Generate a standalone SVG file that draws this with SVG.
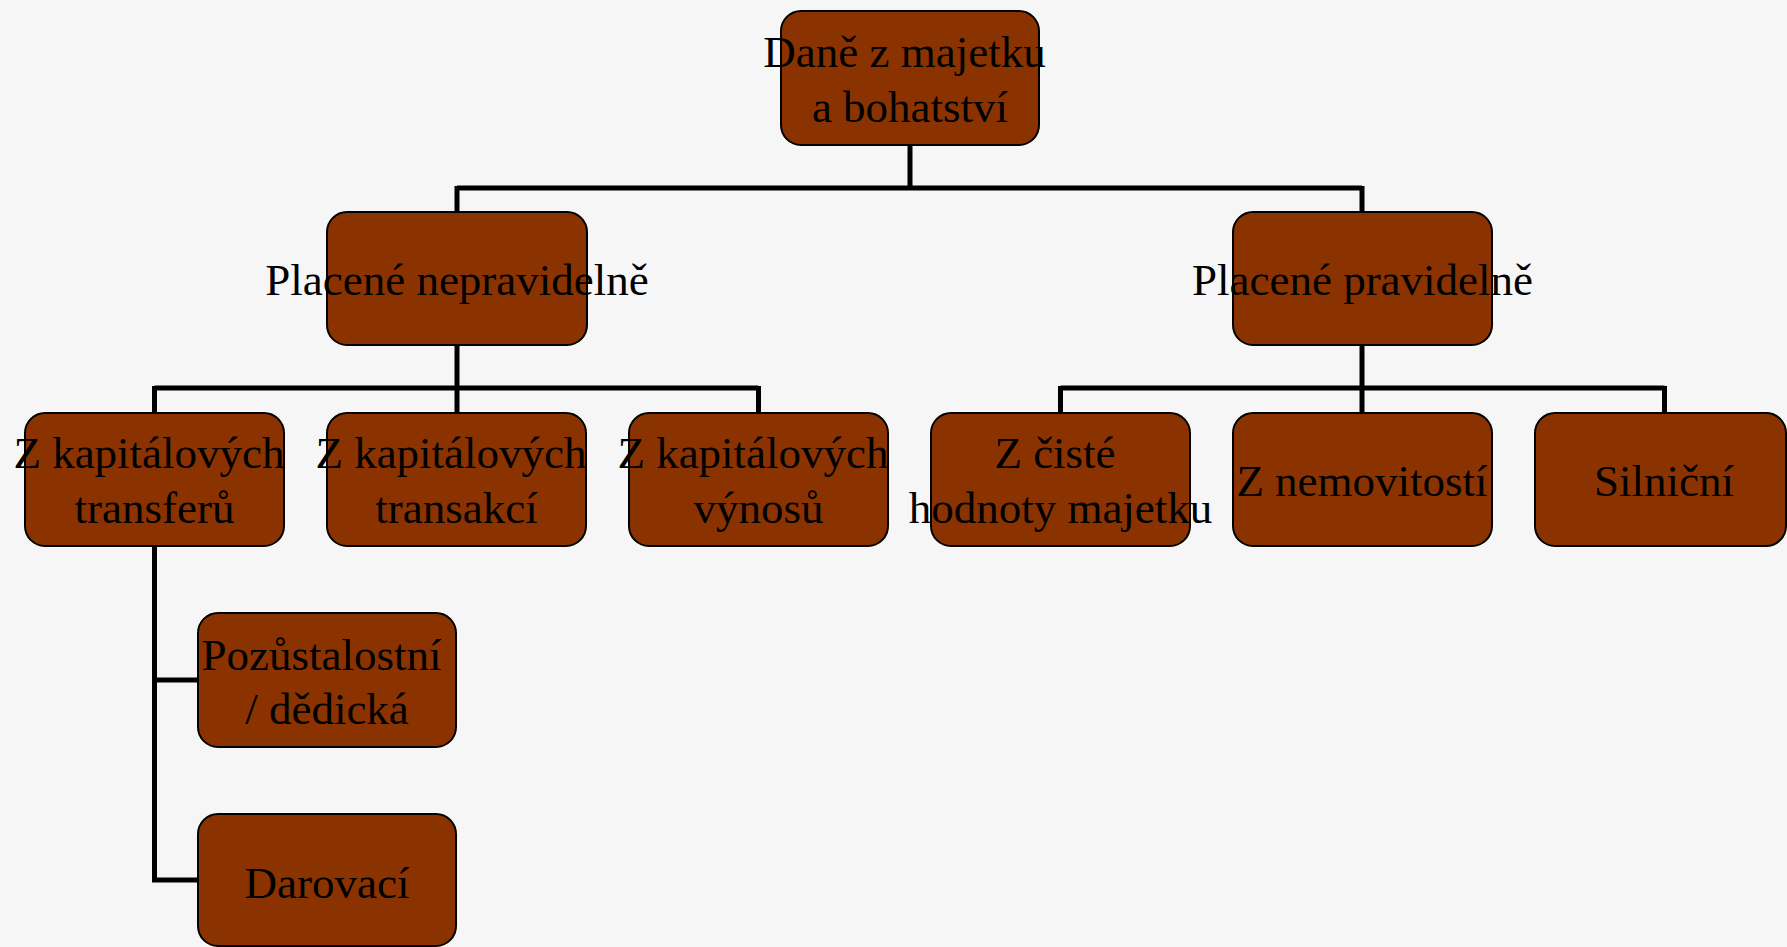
<svg xmlns="http://www.w3.org/2000/svg" width="1787" height="947" viewBox="0 0 1787 947">
<style>
.box{fill:#8B3300;stroke:#000;stroke-width:2}
.t{font-family:"Liberation Serif","Times New Roman",serif;font-size:45px;fill:#000;text-anchor:middle}
.c{fill:none;stroke:#000;stroke-width:5}
</style>
<rect width="1787" height="947" fill="#F6F6F6"/>
<g id="connectors">
<path class="c" d="M910,145 V188 M457,188 H1362 M457,186 V212 M1362,186 V212"/>
<path class="c" d="M457,344 V388 M154.5,388 H758.5 M154.5,386 V413 M457,386 V413 M758.5,386 V413"/>
<path class="c" d="M1362,344 V388 M1060.5,388 H1664.5 M1060.5,386 V413 M1362,386 V413 M1664.5,386 V413"/>
<path class="c" d="M154.5,546 V880 M152,680 H198 M152,880 H198"/>
</g>
<g id="n0"><rect class="box" x="781" y="11" width="258" height="134" rx="20"/><text class="t" x="904.5" y="67">Daně z majetku</text><text class="t" x="910" y="122">a bohatství</text></g>
<g id="n1"><rect class="box" x="327" y="212" width="260" height="133" rx="20"/><text class="t" x="457" y="295">Placené nepravidelně</text></g>
<g id="n2"><rect class="box" x="1233" y="212" width="259" height="133" rx="20"/><text class="t" x="1362.5" y="295">Placené pravidelně</text></g>
<g id="n3"><rect class="box" x="25" y="413" width="259" height="133" rx="20"/><text class="t" x="149" y="468">Z kapitálových</text><text class="t" x="154.5" y="523">transferů</text></g>
<g id="n4"><rect class="box" x="327" y="413" width="259" height="133" rx="20"/><text class="t" x="451" y="468">Z kapitálových</text><text class="t" x="456.5" y="523">transakcí</text></g>
<g id="n5"><rect class="box" x="629" y="413" width="259" height="133" rx="20"/><text class="t" x="753" y="468">Z kapitálových</text><text class="t" x="758.5" y="523">výnosů</text></g>
<g id="n6"><rect class="box" x="931" y="413" width="259" height="133" rx="20"/><text class="t" x="1055" y="468">Z čisté</text><text class="t" x="1060.5" y="523">hodnoty majetku</text></g>
<g id="n7"><rect class="box" x="1233" y="413" width="259" height="133" rx="20"/><text class="t" x="1362" y="496">Z nemovitostí</text></g>
<g id="n8"><rect class="box" x="1535" y="413" width="251" height="133" rx="20"/><text class="t" x="1664" y="496">Silniční</text></g>
<g id="n9"><rect class="box" x="198" y="613" width="258" height="134" rx="20"/><text class="t" x="321.5" y="670">Pozůstalostní</text><text class="t" x="327" y="724">/ dědická</text></g>
<g id="n10"><rect class="box" x="198" y="814" width="258" height="132" rx="20"/><text class="t" x="327" y="898">Darovací</text></g>
</svg>
